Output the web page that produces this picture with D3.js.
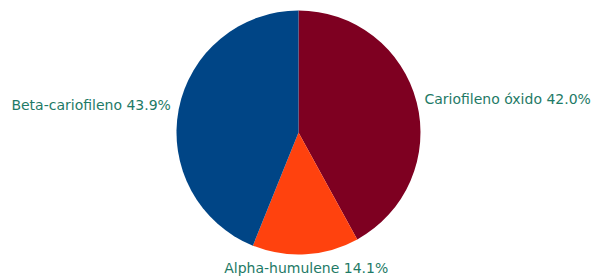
<!DOCTYPE html>
<html>
<head>
<meta charset="utf-8">
<script src="https://cdn.jsdelivr.net/npm/d3@7"></script>
<style>
  body { margin: 0; background: #ffffff; }
</style>
</head>
<body>
<div id="chart"></div>
<script>
// slices in clockwise order starting at 12 o'clock
var names = ["Cariofileno óxido", "Alpha-humulene", "Beta-cariofileno"];
var values = [42.0, 14.1, 43.9];
var colors = ["#7e0021", "#ff420e", "#004586"];

var width = 595, height = 278;
var cx = 298.5, cy = 132.5, radius = 122;

var svg = d3.select("#chart")
  .append("svg")
    .attr("width", width)
    .attr("height", height);

var data = names.map(function(n, i) { return {name: n, value: values[i], color: colors[i]}; });

var pie = d3.pie()
  .sort(null)
  .value(function(d) { return d.value; });

var arc = d3.arc()
  .innerRadius(0)
  .outerRadius(radius);

var g = svg.append("g")
  .attr("transform", "translate(" + cx + "," + cy + ")");

var arcs = pie(data);

g.selectAll("path")
  .data(arcs)
  .enter()
  .append("path")
    .attr("d", arc)
    .style("fill", function(d) { return d.data.color; });

// labels outside the pie at the middle angle of each slice
var total = d3.sum(values);
var labelR = radius + 8;
g.selectAll("text")
  .data(arcs)
  .enter()
  .append("text")
    .attr("x", function(d) {
      var a = (d.startAngle + d.endAngle) / 2;
      return labelR * Math.sin(a);
    })
    .attr("y", function(d) {
      var a = (d.startAngle + d.endAngle) / 2;
      return -labelR * Math.cos(a) - Math.cos(a) * 6 + (Math.sin(a) < -0.5 ? -2 : 0);
    })
    .attr("dy", "0.35em")
    .attr("text-anchor", function(d) {
      var a = (d.startAngle + d.endAngle) / 2;
      var s = Math.sin(a);
      if (Math.abs(s) < 0.3) return "middle";
      return s > 0 ? "start" : "end";
    })
    .style("font-family", "DejaVu Sans, sans-serif")
    .style("font-size", "14px")
    .style("fill", "#1e7a66")
    .text(function(d) { return d.data.name + " " + (d.data.value / total * 100).toFixed(1) + "%"; });
</script>
</body>
</html>
